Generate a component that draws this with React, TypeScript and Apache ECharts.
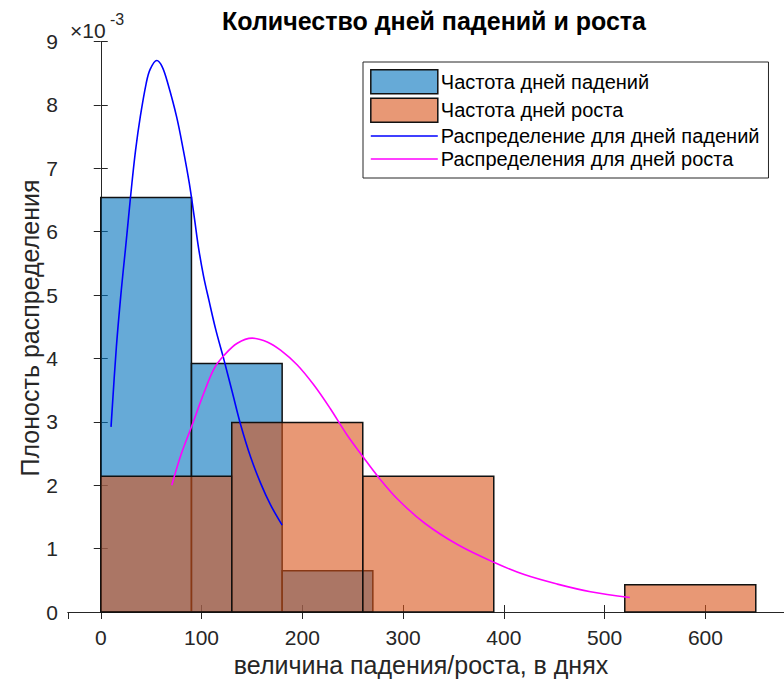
import React, { useEffect, useRef } from "react";
import * as echarts from "echarts";

// Histogram bin edges and density heights (density in units of 1e-3)
const fallEdges = [0, 90, 180, 270];
const fallDensity = [6.54, 3.92, 0.65];
const riseEdges = [0, 130, 260, 390, 520, 650];
const riseDensity = [2.14, 2.99, 2.14, 0, 0.43];

// Fitted distribution curves: [x, density*1e3]
const fallCurveX = [10.2, 15.5, 20.4, 24.4, 27.6, 30.9, 34.6, 39.2, 45.1, 49.0, 55.6, 61.0, 66.5, 75.3, 81.9, 87.9, 92.8, 97.0, 102.0, 107.6, 114.2, 122.4, 130.5, 138.9, 148.8, 158.7, 168.5, 180.0];
const fallCurveY = [2.92, 4.18, 5.08, 5.71, 6.23, 6.76, 7.29, 7.81, 8.34, 8.56, 8.70, 8.60, 8.34, 7.81, 7.29, 6.76, 6.23, 5.75, 5.30, 4.90, 4.45, 3.97, 3.47, 2.95, 2.44, 2.03, 1.69, 1.37];
const riseCurveX = [70.5, 79.6, 89.5, 102.7, 112.5, 122.4, 135.5, 150.3, 165.2, 178.4, 194.8, 211.5, 227.7, 244.1, 260.6, 275.4, 295.2, 321.5, 354.4, 390.6, 420.2, 453.1, 486.0, 525.0];
const riseCurveY = [2.00, 2.48, 2.90, 3.47, 3.84, 4.05, 4.24, 4.32, 4.26, 4.13, 3.90, 3.58, 3.21, 2.80, 2.44, 2.13, 1.77, 1.40, 1.06, 0.78, 0.59, 0.44, 0.32, 0.23];

const yTicks = [0, 1, 2, 3, 4, 5, 6, 7, 8, 9];

const names = [
  "Частота дней падений",
  "Частота дней роста",
  "Распределение для дней падений",
  "Распределения для дней роста",
];
const titleText = "Количество дней падений и роста";
const xLabel = "величина падения/роста, в днях";
const yLabel = "Плоность распределения";

const FONT = "'Liberation Sans', Arial, Helvetica, sans-serif";
const AX = "#262626";
const BLUE = "rgba(0,114,189,0.6)";
const ORANGE = "rgba(217,83,25,0.6)";

function bins(edges: number[], dens: number[]) {
  const out: number[][] = [];
  for (let i = 0; i < dens.length; i++) {
    if (dens[i] > 0) out.push([edges[i], edges[i + 1], dens[i]]);
  }
  return out;
}

function pairs(xs: number[], ys: number[]) {
  return xs.map((x, i) => [x, ys[i]]);
}

function histRender(fill: string) {
  return (params: any, api: any) => {
    const x0 = api.value(0);
    const x1 = api.value(1);
    const h = api.value(2);
    const p0 = api.coord([x0, h]);
    const p1 = api.coord([x1, 0]);
    return {
      type: "rect",
      shape: { x: p0[0], y: p0[1], width: p1[0] - p0[0], height: p1[1] - p0[1] },
      style: { fill, stroke: "#111", lineWidth: 1.5 },
    };
  };
}

export default function App() {
  const ref = useRef<HTMLDivElement>(null);
  useEffect(() => {
    if (!ref.current) return;
    const chart = echarts.init(ref.current, null, { renderer: "svg" });
    const xMin = -32.5;
    const xMax = 678;
    const commonX = {
      type: "value",
      min: xMin,
      max: xMax,
      splitNumber: 7,
      splitLine: { show: false },
      axisLine: { show: true, lineStyle: { color: AX, width: 1 } },
      axisTick: { show: true, inside: true, length: 7, lineStyle: { color: AX } },
    };
    const commonY = {
      type: "value",
      min: 0,
      max: yTicks[yTicks.length - 1],
      interval: 1,
      splitLine: { show: false },
      axisLine: { show: true, lineStyle: { color: AX, width: 1 } },
      axisTick: { show: true, inside: true, length: 7, lineStyle: { color: AX } },
    };
    chart.setOption({
      animation: false,
      backgroundColor: "#fff",
      textStyle: { fontFamily: FONT },
      grid: { left: 68, top: 41.5, width: 718, height: 570.5, containLabel: false },
      xAxis: [
        {
          ...commonX,
          position: "bottom",
          axisLabel: {
            show: true,
            fontSize: 21,
            color: AX,
            margin: 15,
            fontFamily: FONT,
            showMinLabel: false,
            showMaxLabel: false,
            formatter: (v: number) => (v % 100 === 0 ? String(v) : ""),
          },
        },
        { ...commonX, position: "top", axisLabel: { show: false } },
      ],
      yAxis: [
        {
          ...commonY,
          position: "left",
          axisLabel: { show: true, fontSize: 21, color: AX, margin: 10, fontFamily: FONT },
        },
        { ...commonY, position: "right", axisLabel: { show: false } },
      ],
      legend: {
        orient: "vertical",
        left: 363,
        top: 62,
        itemWidth: 67,
        itemHeight: 24,
        itemGap: 3,
        padding: [7, 9, 9, 7],
        borderColor: AX,
        borderWidth: 1,
        backgroundColor: "#fff",
        textStyle: { fontSize: 20, color: "#000", fontFamily: FONT, padding: [0, 0, 0, -2] },
        data: [
          { name: names[0], icon: "rect", itemStyle: { color: BLUE, borderColor: "#111", borderWidth: 1.5 } },
          { name: names[1], icon: "rect", itemStyle: { color: ORANGE, borderColor: "#111", borderWidth: 1.5 } },
          { name: names[2], itemStyle: { opacity: 0 }, lineStyle: { color: "#0000FF", width: 1.6 } },
          { name: names[3], itemStyle: { opacity: 0 }, lineStyle: { color: "#FF00FF", width: 1.6 } },
        ],
      },
      series: [
        {
          name: names[0],
          type: "custom",
          renderItem: histRender(BLUE),
          encode: { x: [0, 1], y: 2 },
          itemStyle: { color: BLUE, borderColor: "#111", borderWidth: 1.5 },
          data: bins(fallEdges, fallDensity),
          z: 1,
        },
        {
          name: names[1],
          type: "custom",
          renderItem: histRender(ORANGE),
          encode: { x: [0, 1], y: 2 },
          itemStyle: { color: ORANGE, borderColor: "#111", borderWidth: 1.5 },
          data: bins(riseEdges, riseDensity),
          z: 2,
        },
        {
          name: names[2],
          type: "line",
          data: pairs(fallCurveX, fallCurveY),
          symbol: "none",
          showSymbol: false,
          smooth: 0.35,
          lineStyle: { color: "#0000FF", width: 1.6 },
          itemStyle: { color: "#0000FF" },
          z: 3,
        },
        {
          name: names[3],
          type: "line",
          data: pairs(riseCurveX, riseCurveY),
          symbol: "none",
          showSymbol: false,
          smooth: 0.35,
          lineStyle: { color: "#FF00FF", width: 1.6 },
          itemStyle: { color: "#FF00FF" },
          z: 4,
        },
      ],
      graphic: [
        {
          type: "text",
          x: 434,
          y: 21,
          style: {
            text: titleText,
            fontSize: 25,
            fontWeight: "bold",
            fontFamily: FONT,
            fill: "#000",
            align: "center",
            verticalAlign: "middle",
          },
        },
        {
          type: "text",
          x: 70,
          y: 30,
          style: { text: "×10", fontSize: 21, fontFamily: FONT, fill: AX, align: "left", verticalAlign: "middle" },
        },
        {
          type: "text",
          x: 110,
          y: 19,
          style: { text: "-3", fontSize: 16, fontFamily: FONT, fill: AX, align: "left", verticalAlign: "middle" },
        },
        {
          type: "text",
          x: 421,
          y: 665,
          style: { text: xLabel, fontSize: 25, fontFamily: FONT, fill: AX, align: "center", verticalAlign: "middle" },
        },
        {
          type: "text",
          x: 30,
          y: 328,
          rotation: Math.PI / 2,
          style: { text: yLabel, fontSize: 25, fontFamily: FONT, fill: AX, align: "center", verticalAlign: "middle" },
        },
      ],
    });
    return () => chart.dispose();
  }, []);
  return <div ref={ref} style={{ width: 784, height: 684, position: "absolute", left: 0, top: 0 }} />;
}
